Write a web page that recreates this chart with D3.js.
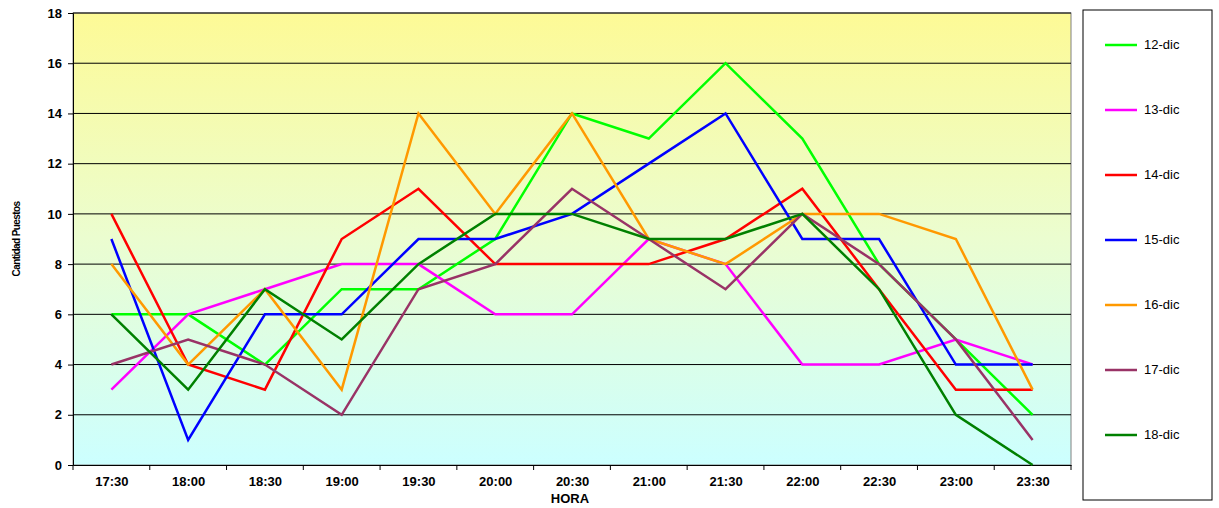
<!DOCTYPE html>
<html><head><meta charset="utf-8">
<script src="https://cdn.jsdelivr.net/npm/d3@7"></script>
<style>body{margin:0;background:#fff;font-family:"Liberation Sans",Arial,sans-serif}</style>
</head><body><svg id="c" width="1219" height="508"></svg>
<script>
const horas = ['17:30','18:00','18:30','19:00','19:30','20:00','20:30','21:00','21:30','22:00','22:30','23:00','23:30'];
const dic12 = [6,6,4,7,7,9,14,13,16,13,8,5,2];
const dic13 = [3,6,7,8,8,6,6,9,8,4,4,5,4];
const dic14 = [10,4,3,9,11,8,8,8,9,11,7,3,3];
const dic15 = [9,1,6,6,9,9,10,12,14,9,9,4,4];
const dic16 = [8,4,7,3,14,10,14,9,8,10,10,9,3];
const dic17 = [4,5,4,2,7,8,11,9,7,10,8,5,1];
const dic18 = [6,3,7,5,8,10,10,9,9,10,7,2,0];
const seriesNames = ['12-dic','13-dic','14-dic','15-dic','16-dic','17-dic','18-dic'];
const seriesData = [dic12,dic13,dic14,dic15,dic16,dic17,dic18];
const colors = ['#00ff00','#ff00ff','#ff0000','#0000ff','#ff9900','#993366','#008000'];
const yTicks = [0,2,4,6,8,10,12,14,16,18];

const svg = d3.select('#c');
const L = 73, R = 1071, T = 13, B = 465;
const x = d3.scalePoint().domain(horas).range([L, R]).padding(0.5);
const y = d3.scaleLinear().domain([0, 18]).range([B, T]);

const grad = svg.append('defs').append('linearGradient').attr('id','bg').attr('x1',0).attr('y1',0).attr('x2',0).attr('y2',1);
grad.append('stop').attr('offset','0%').attr('stop-color','#fdfa96');
grad.append('stop').attr('offset','50%').attr('stop-color','#ebfdd0');
grad.append('stop').attr('offset','100%').attr('stop-color','#ccffff');
svg.append('rect').attr('x',L).attr('y',T).attr('width',R-L).attr('height',B-T).attr('fill','url(#bg)').attr('stroke','#808080');

svg.append('g').selectAll('line').data(yTicks.slice(1)).join('line')
  .attr('x1',L).attr('x2',R).attr('y1',d=>y(d)).attr('y2',d=>y(d)).attr('stroke','#000').attr('stroke-width',1);

const ya = svg.append('g').attr('transform',`translate(${L},0)`)
  .call(d3.axisLeft(y).tickValues(yTicks).tickSize(5).tickPadding(6));
const xa = svg.append('g').attr('transform',`translate(0,${B})`)
  .call(d3.axisBottom(x).tickSize(0).tickPadding(12));
const step = x.step();
svg.append('g').selectAll('line').data(d3.range(horas.length+1)).join('line')
  .attr('x1',i=>L+i*step).attr('x2',i=>L+i*step).attr('y1',B).attr('y2',B+5).attr('stroke','#000');
[ya,xa].forEach(a=>{a.selectAll('text').attr('font-size',13).attr('font-weight','bold').attr('font-family','"Liberation Sans",Arial');
  a.select('.domain').attr('stroke','#000');});

const line = d3.line().x((d,i)=>x(horas[i])).y(d=>y(d));
seriesData.forEach((s,k)=>{
  svg.append('path').datum(s).attr('d',line).attr('fill','none').attr('stroke',colors[k]).attr('stroke-width',2.5);
});

svg.append('text').attr('x',570).attr('y',503).attr('text-anchor','middle').attr('font-size',13).attr('font-weight','bold').text('HORA');
svg.append('text').attr('transform','translate(20,239) rotate(-90)').attr('text-anchor','middle').attr('font-size',10).attr('font-weight','bold').attr('letter-spacing','-0.6').text('Cantidad Puestos');

const lg = svg.append('g');
lg.append('rect').attr('x',1083).attr('y',10).attr('width',129).attr('height',490).attr('fill','#fff').attr('stroke','#000');
seriesNames.forEach((n,k)=>{
  const yy = 45 + k*65;
  lg.append('line').attr('x1',1105).attr('x2',1137).attr('y1',yy).attr('y2',yy).attr('stroke',colors[k]).attr('stroke-width',2.5);
  lg.append('text').attr('x',1144).attr('y',yy+4).attr('font-size',13).text(n);
});
</script></body></html>
